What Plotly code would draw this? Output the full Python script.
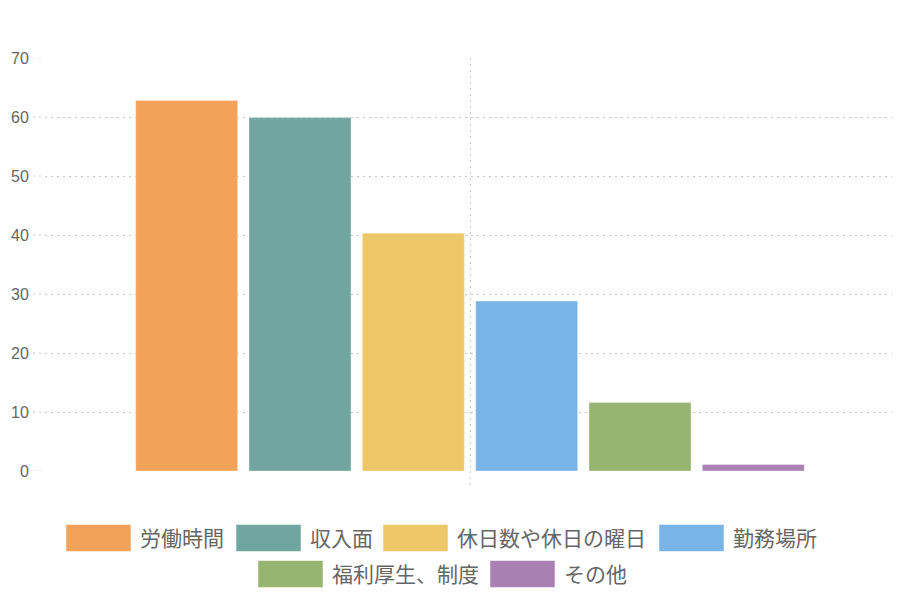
import plotly.graph_objects as go

# 回答項目と割合 (%)
categories = ["労働時間", "収入面", "休日数や休日の曜日", "勤務場所", "福利厚生、制度", "その他"]
values = [62.8, 59.9, 40.3, 28.8, 11.6, 1.1]
colors = ["#F2A359", "#71A6A0", "#EDC768", "#78B4E6", "#97B571", "#AA80B2"]
y_ticks = [0, 10, 20, 30, 40, 50, 60, 70]

FONT = "Liberation Sans, Arial, Noto Sans CJK JP, sans-serif"
GRID = "#c8c8c8"

fig = go.Figure()
for name, v, c in zip(categories, values, colors):
    fig.add_trace(go.Bar(
        x=[""], y=[v], name=name,
        marker=dict(color=c, line=dict(color="rgba(255,255,255,0.35)", width=1)),
        showlegend=False,
    ))

# page body adds an 8px offset, so everything is moved up/left by 8px
OFF = 8
W, H = 900, 600
L, T = 45 - OFF, 58 - OFF
pw, ph = 850, 413
R = W - L - pw
B = H - T - ph

shapes = []
# grid tick marks extending left of the plot area
for t in y_ticks:
    shapes.append(dict(type="line", xref="paper", yref="y",
                       x0=-12 / pw, x1=0, y0=t, y1=t,
                       line=dict(color=GRID, width=1, dash="2px,4px")))
# vertical grid tick extending below zero
shapes.append(dict(type="line", xref="x", yref="paper", x0=0, x1=0,
                   y0=-14 / ph, y1=0,
                   line=dict(color=GRID, width=1, dash="2px,4px")))

# custom legend (large swatches like the original)
legend_pos = [(66, 538), (236, 538), (383, 538), (659, 538), (258, 574), (490, 574)]
annotations = []
for (px, py), name, c in zip(legend_pos, categories, colors):
    px, py = px - OFF, py - OFF
    x0 = (px - L) / pw
    x1 = (px + 65 - L) / pw
    yc = (H - B - py) / ph
    h = 13.5 / ph
    shapes.append(dict(type="rect", xref="paper", yref="paper",
                       x0=x0, x1=x1, y0=yc - h, y1=yc + h,
                       fillcolor=c, line=dict(color="rgba(255,255,255,0.5)", width=1)))
    annotations.append(dict(xref="paper", yref="paper", x=(px + 72 - L) / pw, y=yc,
                            xanchor="left", yanchor="middle", showarrow=False,
                            text=name, font=dict(size=21, color="#666", family=FONT)))

fig.update_layout(
    width=W, height=H,
    margin=dict(l=L, r=R, t=T, b=B),
    paper_bgcolor="white", plot_bgcolor="white",
    barmode="group", bargap=0.2, bargroupgap=0.1,
    font=dict(family=FONT, color="#666", size=16),
    shapes=shapes, annotations=annotations,
    showlegend=False,
)
fig.update_xaxes(
    automargin=False,
    showgrid=True, gridcolor=GRID, gridwidth=1, griddash="2px,4px",
    showline=False, zeroline=False, showticklabels=False, range=[-0.5, 0.5],
)
fig.update_yaxes(
    automargin=False,
    range=[0, 70], tickvals=y_ticks, showgrid=True, gridcolor=GRID, gridwidth=1,
    griddash="2px,4px", zeroline=False, showline=False,
    ticks="outside", ticklen=12, tickcolor="rgba(0,0,0,0)",
    tickfont=dict(size=16, color="#666"),
)

fig.write_html("out.html")
